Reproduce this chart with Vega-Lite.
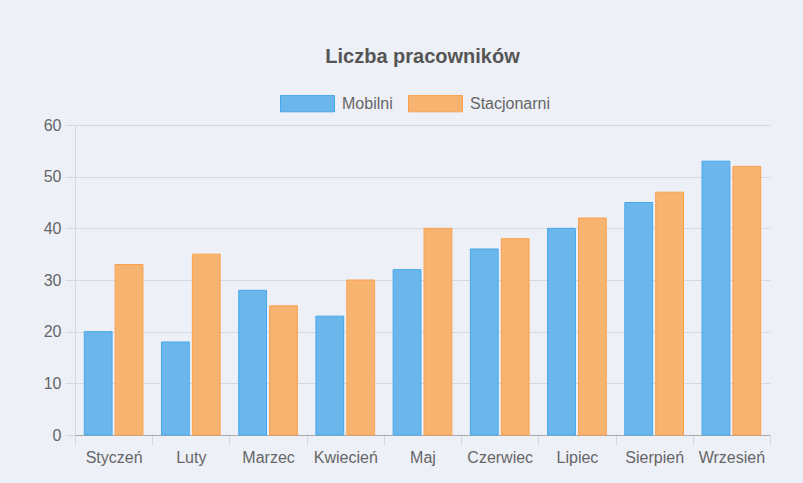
{
  "$schema": "https://vega.github.io/schema/vega-lite/v6.json",
  "autosize": {"type": "none"},
  "width": 695,
  "height": 310,
  "padding": {"left": 75, "top": 125, "right": 33, "bottom": 48},
  "background": "#edf0f7",
  "title": {
    "text": "Liczba pracowników",
    "font": "Liberation Sans",
    "fontSize": 20,
    "fontWeight": "bold",
    "color": "#555555",
    "anchor": "middle",
    "frame": "group",
    "offset": 9
  },
  "data": {
    "values": [
      {"miesiac": "Styczeń", "typ": "Mobilni", "liczba": 20},
      {"miesiac": "Styczeń", "typ": "Stacjonarni", "liczba": 33},
      {"miesiac": "Luty", "typ": "Mobilni", "liczba": 18},
      {"miesiac": "Luty", "typ": "Stacjonarni", "liczba": 35},
      {"miesiac": "Marzec", "typ": "Mobilni", "liczba": 28},
      {"miesiac": "Marzec", "typ": "Stacjonarni", "liczba": 25},
      {"miesiac": "Kwiecień", "typ": "Mobilni", "liczba": 23},
      {"miesiac": "Kwiecień", "typ": "Stacjonarni", "liczba": 30},
      {"miesiac": "Maj", "typ": "Mobilni", "liczba": 32},
      {"miesiac": "Maj", "typ": "Stacjonarni", "liczba": 40},
      {"miesiac": "Czerwiec", "typ": "Mobilni", "liczba": 36},
      {"miesiac": "Czerwiec", "typ": "Stacjonarni", "liczba": 38},
      {"miesiac": "Lipiec", "typ": "Mobilni", "liczba": 40},
      {"miesiac": "Lipiec", "typ": "Stacjonarni", "liczba": 42},
      {"miesiac": "Sierpień", "typ": "Mobilni", "liczba": 45},
      {"miesiac": "Sierpień", "typ": "Stacjonarni", "liczba": 47},
      {"miesiac": "Wrzesień", "typ": "Mobilni", "liczba": 53},
      {"miesiac": "Wrzesień", "typ": "Stacjonarni", "liczba": 52}
    ]
  },
  "mark": {"type": "bar", "strokeWidth": 1, "opacity": 1},
  "encoding": {
    "x": {
      "field": "miesiac",
      "type": "nominal",
      "sort": null,
      "scale": {"paddingInner": 0, "paddingOuter": 0},
      "axis": {
        "title": null,
        "labelAngle": 0,
        "tickBand": "extent",
        "tickSize": 10,
        "tickColor": "#d5d8de",
        "domainColor": "#a9a9a9",
        "labelPadding": 4,
        "grid": false,
        "labelFont": "Liberation Sans",
        "labelFontSize": 16,
        "labelColor": "#666666"
      }
    },
    "xOffset": {
      "field": "typ",
      "type": "nominal",
      "scale": {"paddingInner": 0.1, "paddingOuter": 0.3}
    },
    "y": {
      "field": "liczba",
      "type": "quantitative",
      "scale": {"domain": [0, 60], "nice": false},
      "axis": {
        "title": null,
        "values": [0, 10, 20, 30, 40, 50, 60],
        "tickSize": 10,
        "tickColor": "#d5d8de",
        "domainColor": "#d5d8de",
        "gridColor": "#d5d8de",
        "labelPadding": 4,
        "labelFont": "Liberation Sans",
        "labelFontSize": 16,
        "labelColor": "#666666"
      }
    },
    "fill": {
      "field": "typ",
      "type": "nominal",
      "scale": {"domain": ["Mobilni", "Stacjonarni"], "range": ["#6bb7ec", "#f7b370"]},
      "legend": {
        "title": null,
        "orient": "none",
        "direction": "horizontal",
        "legendX": 205,
        "legendY": -49,
        "symbolType": "M-1,-0.3H1V0.3H-1Z",
        "symbolSize": 2916,
        "symbolStrokeWidth": 1,
        "symbolOpacity": 1,
        "labelFont": "Liberation Sans",
        "labelFontSize": 16,
        "labelColor": "#666666",
        "labelOffset": 7,
        "columnPadding": 13
      }
    },
    "stroke": {
      "field": "typ",
      "type": "nominal",
      "scale": {"domain": ["Mobilni", "Stacjonarni"], "range": ["#45a7eb", "#fba14d"]},
      "legend": {
        "title": null,
        "orient": "none",
        "direction": "horizontal",
        "legendX": 205,
        "legendY": -49,
        "symbolType": "M-1,-0.3H1V0.3H-1Z",
        "symbolSize": 2916,
        "symbolStrokeWidth": 1,
        "symbolOpacity": 1,
        "labelFont": "Liberation Sans",
        "labelFontSize": 16,
        "labelColor": "#666666",
        "labelOffset": 7,
        "columnPadding": 13
      }
    }
  },
  "config": {
    "view": {"stroke": null}
  }
}
